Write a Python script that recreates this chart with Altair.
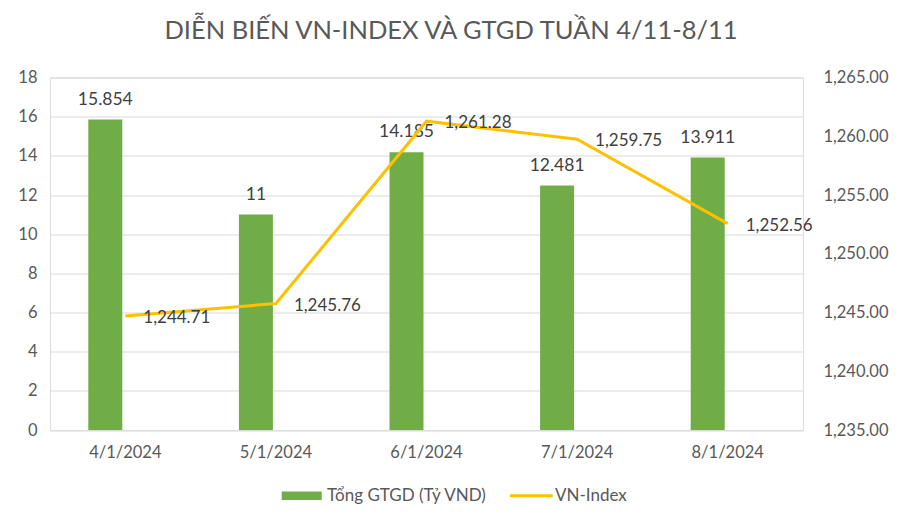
import altair as alt
import pandas as pd

dates = ["4/1/2024", "5/1/2024", "6/1/2024", "7/1/2024", "8/1/2024"]
gtgd = [15.854, 11, 14.185, 12.481, 13.911]
gtgd_labels = ["15.854", "11", "14.185", "12.481", "13.911"]
vnindex = [1244.71, 1245.76, 1261.28, 1259.75, 1252.56]
vn_labels = ["1,244.71", "1,245.76", "1,261.28", "1,259.75", "1,252.56"]
title_text = "DIỄN BIẾN VN-INDEX VÀ GTGD TUẦN 4/11-8/11"
legend_labels = ["Tổng GTGD (Tỷ VND)", "VN-Index"]

df = pd.DataFrame({"date": dates, "gtgd": gtgd, "gl": gtgd_labels,
                   "vn": vnindex, "vl": vn_labels})

FONT = "Lato"
GREEN = "#70AD47"
GOLD = "#FFC000"
TXT = "#595959"
LBL = "#404040"
W, H = 753, 352.5

xenc = alt.X("date:N", sort=dates, title=None,
             scale=alt.Scale(paddingInner=0, paddingOuter=0),
             axis=alt.Axis(labelFontSize=16.5, labelColor=TXT, labelFont=FONT,
                           labelAngle=0, ticks=False, domain=False, labelPadding=14))

yleft = alt.Y("gtgd:Q", title=None,
              scale=alt.Scale(domain=[0, 18], nice=False),
              axis=alt.Axis(values=list(range(0, 19, 2)), labelFontSize=16.5,
                            labelColor=TXT, labelFont=FONT, ticks=False,
                            domain=False, gridColor="#D9D9D9", labelPadding=13))

bars = alt.Chart(df).mark_bar(size=34, color=GREEN, xOffset=-20).encode(x=xenc, y=yleft)
bar_text = alt.Chart(df).mark_text(dy=-20, xOffset=-20, fontSize=17.5, font=FONT,
                                   color=LBL).encode(x=xenc, y=yleft, text="gl:N")

yright = alt.Y("vn:Q", title=None,
               scale=alt.Scale(domain=[1235, 1265], nice=False),
               axis=alt.Axis(orient="right", values=list(range(1235, 1266, 5)),
                             format=",.2f", labelFontSize=16.5, labelColor=TXT,
                             labelFont=FONT, ticks=False, domain=False, grid=False,
                             labelAlign="right", labelPadding=85))

line = alt.Chart(df).mark_line(color=GOLD, strokeWidth=3).encode(x=xenc, y=yright)
line_text = alt.Chart(df).mark_text(align="left", dx=18, dy=2, fontSize=17, font=FONT,
                                    color=LBL).encode(x=xenc, y=yright, text="vl:N")

one = pd.DataFrame({"a": [0]})
title = alt.Chart(one).mark_text(align="center", baseline="alphabetic", fontSize=25.5,
                                 font=FONT, color=TXT).encode(
    x=alt.value(401), y=alt.value(-39), text=alt.value(title_text))

# legend
leg_rect = alt.Chart(one).mark_rect(color=GREEN).encode(
    x=alt.value(231.7), x2=alt.value(271.7), y=alt.value(414), y2=alt.value(422.5))
leg_t1 = alt.Chart(one).mark_text(align="left", baseline="middle", fontSize=17,
                                  font=FONT, color=TXT).encode(
    x=alt.value(277), y=alt.value(418), text=alt.value(legend_labels[0]))
leg_line = alt.Chart(one).mark_rule(color=GOLD, strokeWidth=3).encode(
    x=alt.value(460), x2=alt.value(502.7), y=alt.value(418.2))
leg_t2 = alt.Chart(one).mark_text(align="left", baseline="middle", fontSize=17,
                                  font=FONT, color=TXT).encode(
    x=alt.value(505), y=alt.value(418), text=alt.value(legend_labels[1]))

chart = alt.layer(
    alt.layer(bars, bar_text),
    alt.layer(line, line_text),
    title, leg_rect, leg_t1, leg_line, leg_t2,
).resolve_scale(y="independent").properties(
    width=W, height=H,
    autosize=alt.AutoSizeParams(type="none"),
    padding={"left": 42, "top": 69.5, "right": 89, "bottom": 85},
).configure_view(stroke=None).configure(background="white")

chart.save("out.html", embed_options={"renderer": "svg", "actions": False})
